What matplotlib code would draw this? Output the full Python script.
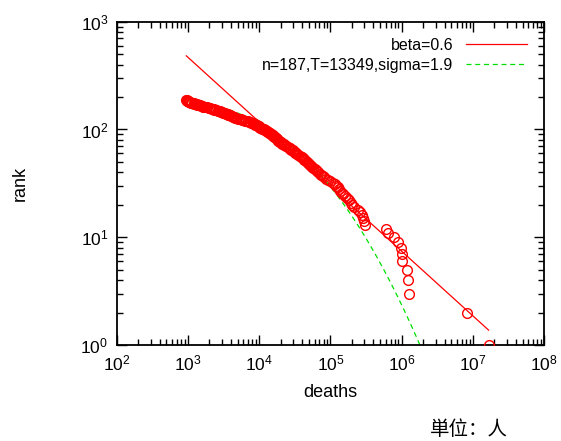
import math
import numpy as np
import matplotlib
matplotlib.use("Agg")
import matplotlib.pyplot as plt

# ----------------------------
# Data (deaths, sorted descending, rank = 1..n)
# ----------------------------
deaths = [
    16600000, 8300000, 1260000, 1230000, 1200000, 1020000, 1000000, 977000,
    890000, 776000, 646000, 603000,
    309000, 295000, 282000, 275000, 263000, 240000, 214000, 204000,
    195000, 182000, 170000, 158000, 151000, 145000, 138000, 132000, 126000, 120000,
    115000, 110000, 100000, 93000, 87000, 81000, 78000, 74000, 71000, 68000,
    65000, 63000, 60000, 57500, 56000, 54000, 52500, 50000, 49000, 47000,
    45000, 43000, 42000, 41000, 40000, 39000,
    37000, 35500, 34500, 33000, 32000, 31500, 30000, 29500, 28000, 27500,
    27000, 26000, 25000, 24000, 23500, 22500, 22000, 21000, 20500,
    20000, 19500, 19000, 18600, 18200, 17800, 17700, 17400, 17000, 16600,
    16200, 15800, 15500, 15100, 14800, 14500, 14100,
    13800, 13500, 13200, 12800, 12500, 12200, 12000, 11700, 11400, 11000,
    10700, 10400, 10100, 10000, 9800, 9500, 9300, 9000, 8800, 8700, 8500, 8300,
    8100, 7800, 7500, 7200, 6900, 6600, 6300, 6000, 5800, 5500, 5300, 5000, 4800,
    4700, 4600, 4500, 4400, 4250, 4100, 4000, 3900, 3800, 3700,
    3600, 3500, 3400, 3300, 3200, 3100, 3000, 2950, 2900, 2800,
    2750, 2700, 2600, 2500, 2450, 2350, 2300, 2200, 2150, 2050,
    2000, 1950, 1850, 1800, 1700, 1650,
    1600, 1560, 1520, 1480, 1450, 1400, 1350, 1320, 1300, 1250, 1220, 1200,
    1150, 1120, 1100, 1080, 1050, 1030, 1010, 1000, 1000, 980, 960, 950,
]
ranks = np.arange(1, len(deaths) + 1)

# fit parameters shown in the legend
beta = 0.6
power_const = 10 ** 4.47
n_fit = 187
T_fit = 13349
sigma_fit = 1.9

plt.rcParams['font.family'] = ['Liberation Sans', 'DejaVu Sans']
plt.rcParams['mathtext.fontset'] = 'custom'
plt.rcParams['mathtext.rm'] = 'Liberation Sans'
plt.rcParams['font.size'] = 11.5

fig = plt.figure(figsize=(5.61, 4.41), dpi=100)
ax = fig.add_axes([0.208, 0.2177, 0.762, 0.733])

ax.plot(deaths, ranks, 'o', mfc='none', mec='#ff0000', ms=7.0, mew=1.0,
        zorder=4)

# power law line
xs = np.logspace(np.log10(min(deaths)), np.log10(max(deaths)), 50)
ax.plot(xs, power_const * xs ** (-beta), color='#ff0000', lw=0.9,
        label='beta=%.1f' % beta)

# truncated lognormal rank curve
def surv(x):
    z = math.log(x / T_fit) / sigma_fit
    return 0.5 * math.erfc(z / math.sqrt(2))

xg = np.logspace(np.log10(min(deaths)), 7, 400)
s0 = surv(min(deaths))
yg = [n_fit * surv(v) / s0 for v in xg]
ax.plot(xg, yg, color='#00e000', lw=0.9, ls=(0, (4, 3)),
        label='n=%d,T=%d,sigma=%.1f' % (n_fit, T_fit, sigma_fit))

ax.set_xscale('log')
ax.set_yscale('log')
ax.set_xlim(1e2, 1e8)
ax.set_ylim(1e0, 1e3)

ax.tick_params(which='both', direction='in', top=True, right=True, width=1)
ax.tick_params(which='major', length=7, pad=6, labelsize=12.5)
ax.tick_params(which='minor', length=4)
for s in ax.spines.values():
    s.set_linewidth(1.3)

ax.set_xlabel('deaths', fontsize=13)
ax.xaxis.set_label_coords(0.5, -0.12)
ax.set_ylabel('rank', fontsize=13)
ax.yaxis.set_label_coords(-0.205, 0.5)

ax.legend(loc='upper right', frameon=False, markerfirst=False,
          handlelength=3.8, borderaxespad=0.3, labelspacing=0.3,
          bbox_to_anchor=(0.985, 0.985))

fig.text(0.835, 0.025, '単位：人', family=['Noto Sans CJK SC', 'DejaVu Sans'],
         fontsize=14, ha='center', va='center')

fig.savefig('out.png', dpi=100)
